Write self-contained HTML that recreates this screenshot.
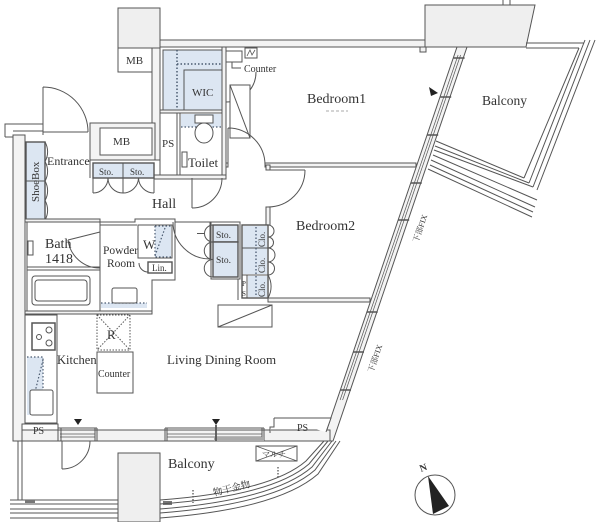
<!DOCTYPE html>
<html><head><meta charset="utf-8"><style>
html,body{margin:0;padding:0;background:#fff;}
svg{display:block}
text{font-family:"Liberation Serif","Noto Serif CJK JP",serif;fill:#333}
</style></head><body>
<svg width="600" height="522" viewBox="0 0 600 522" xmlns="http://www.w3.org/2000/svg">
<g fill="none" stroke="#555" stroke-width="1">
<!-- top-left column & MB -->
<rect x="118" y="8" width="42" height="40" fill="#efefef"/>
<rect x="118" y="48" width="35" height="24" fill="#fff"/>
<!-- top wall -->
<rect x="160" y="40" width="266" height="7" fill="#f3f3f3"/>
<!-- right column -->
<polygon points="425,5 535,5 526,47 425,47" fill="#efefef"/>
<path d="M503,0V5M510,0V5"/>
<rect x="420" y="47" width="6" height="5" fill="#f3f3f3"/>
<!-- top balcony rails -->
<path d="M526,43H584M526,48H579"/>
<path d="M579,48L524,178M585,40L529,183M590,40L533,187M595,40L537,190"/>
<path d="M436,141L524,178M435,146L529,183M434,150L533,187M433,155L537,200M431,160L535,207M430,165L533,212M428,169L532,217"/>
<!-- slanted wall -->
<polygon points="457,47 467,47 333,441 323,441" fill="#f3f3f3"/>
<path d="M458.1,55L340.1,400M460.6,55L342.6,400" stroke-width="0.7"/>
<path d="M453.6,58h11M440.2,97h11M427.2,135h11M410.8,183h11M398.2,220h11M366.7,312h11M353,352h11M340,390h11" stroke-width="1.6"/>
<polygon points="429,87 438,93 431,96" fill="#222" stroke="none"/>
<!-- left vertical wall & stub -->
<path d="M5,137V124H43V135M13,131H43M5,137H13"/>
<rect x="13" y="135" width="12" height="306" fill="#f3f3f3"/>
<!-- wall left of PS -->
<rect x="152" y="48" width="8" height="112" fill="#f3f3f3"/>
<!-- wall right of WIC/toilet -->
<rect x="222" y="47" width="4" height="131" fill="#f3f3f3"/>
<!-- WIC -->
<rect x="163" y="50" width="59" height="60" fill="#dce6f2"/>
<rect x="184" y="70" width="38" height="40" fill="#dce6f2"/>
<path d="M177,50V110M177,64H222" stroke="#4a5a70" stroke-width="1.5" stroke-dasharray="1.5 2"/>
<rect x="160" y="110" width="62" height="3" fill="#f3f3f3"/>
<!-- PS -->
<rect x="160" y="113" width="17" height="63" fill="#fff"/>
<!-- Toilet -->
<rect x="180" y="113" width="42" height="64" fill="#fff"/>
<rect x="181" y="114" width="40" height="13" fill="#dce6f2" stroke="none"/>
<path d="M181,127H221" stroke="#4a5a70" stroke-width="1.3" stroke-dasharray="1.5 2"/>
<rect x="195" y="115" width="18" height="8" fill="#fff"/>
<ellipse cx="204" cy="133" rx="9" ry="10" fill="#fff"/>
<rect x="182" y="152" width="5" height="15" fill="#fff"/>
<rect x="154" y="175" width="72" height="4" fill="#f3f3f3"/>
<!-- Counter -->
<rect x="226" y="51" width="16" height="11" fill="#fff"/>
<rect x="245" y="48" width="12" height="10" fill="#fff"/>
<path d="M247,56L250,50L252,55L255,50" stroke-width="0.8"/>
<path d="M232,62V68H241"/>
<path d="M226,72V102M226,102A30,30 0 0 0 256,72"/>
<rect x="230" y="85" width="20" height="53" fill="#fff"/>
<path d="M230,85L250,138"/>
<!-- Bedroom1 door -->
<path d="M228,165V128M228,128A37,37 0 0 1 265,165"/>
<!-- Bedroom1/2 wall -->
<rect x="226" y="163" width="2" height="4" fill="#f3f3f3"/>
<rect x="265" y="163" width="151" height="4" fill="#f3f3f3"/>
<!-- Toilet door -->
<path d="M192,178V208M192,208A30,30 0 0 0 222,178"/>
<!-- MB lower -->
<rect x="90" y="123" width="65" height="37" fill="#f3f3f3"/>
<rect x="100" y="128" width="52" height="27" fill="#fff"/>
<!-- Sto row -->
<rect x="93" y="163" width="61" height="15" fill="#dce6f2" stroke-width="1.4"/>
<path d="M123,163V178"/>
<path d="M90,160V178"/>
<path d="M93,178V193M93,193A15,15 0 0 0 108,178M123,178V193M123,193A15,15 0 0 1 108,178M123,193A15.5,15.5 0 0 0 138.5,178M154,178V193M154,193A15.5,15.5 0 0 1 138.5,178"/>
<!-- Entrance door -->
<path d="M43,132V87M43,87A45,45 0 0 1 88,132M43,132H88"/>
<!-- ShoeBox -->
<rect x="26" y="142" width="19" height="78" fill="#dce6f2" stroke-width="1.4"/>
<path d="M26,181H45"/>
<path d="M45,142A19.5,19.5 0 0 1 45,161.5M45,161.5A19.5,19.5 0 0 1 45,181M45,181A19.5,19.5 0 0 1 45,200.5M45,200.5A19.5,19.5 0 0 1 45,220"/>
<!-- Hall right wall & bedroom2 door -->
<rect x="266" y="165" width="4" height="5" fill="#f3f3f3"/>
<rect x="266" y="207" width="4" height="18" fill="#f3f3f3"/>
<path d="M268,170H305M305,170A37,37 0 0 1 268,207"/>
<!-- Hall bottom wall -->
<rect x="25" y="219" width="75" height="3" fill="#f3f3f3"/>
<path d="M100,222H135V219H175V280H152V314M100,225H137"/>
<path d="M175,222H211"/>
<path d="M210,222V259M173,222A37,37 0 0 0 210,259"/>
<!-- Bath -->
<rect x="27" y="222" width="73" height="90" fill="#fff"/>
<path d="M27,267H100M27,270H100"/>
<rect x="28" y="241" width="5" height="14" fill="#fff"/>
<path d="M68,240L100,232M68,240A32,32 0 0 0 100,268"/>
<rect x="32" y="276" width="58" height="29" rx="3" fill="#fff"/>
<rect x="35" y="280" width="52" height="21" rx="3"/>
<!-- Powder -->
<path d="M100,222V312"/>
<rect x="138" y="225" width="34" height="33" fill="#fff"/>
<rect x="155" y="226" width="16" height="31" fill="#dce6f2" stroke="none"/>
<path d="M155,226V257H171M155,226H171M165,228L155,256" stroke="#4a5a70" stroke-width="1.2" stroke-dasharray="1.5 2"/>
<rect x="148" y="262" width="24" height="11" fill="#fff" stroke-width="1.4"/>
<path d="M139,263A9,9 0 0 0 148,272"/>
<rect x="101" y="303" width="46" height="5" fill="#dce6f2" stroke="none"/>
<path d="M101,303H147" stroke="#4a5a70" stroke-width="1.2" stroke-dasharray="1.5 2"/>
<rect x="112" y="288" width="25" height="15" rx="2" fill="#fff"/>
<rect x="25" y="311" width="127" height="3" fill="#f3f3f3"/>
<!-- Sto bedroom2 side -->
<rect x="211" y="222" width="29" height="57" fill="#fff"/>
<rect x="213" y="225" width="25" height="17" fill="#dce6f2" stroke-width="1.4"/>
<rect x="213" y="242" width="25" height="35" fill="#dce6f2" stroke-width="1.4"/>
<path d="M213,225A8.5,8.5 0 0 0 213,242M197,233.5H205M213,242A8.75,8.75 0 0 0 213,259.5M213,259.5A8.75,8.75 0 0 0 213,277"/>
<path d="M238,279V300"/>
<!-- Clo -->
<rect x="242" y="225" width="26" height="73" fill="#fff" stroke-width="1.4"/>
<rect x="243" y="226" width="24" height="48" fill="#dce6f2" stroke="none"/>
<rect x="248" y="276" width="19" height="21" fill="#dce6f2" stroke="none"/>
<path d="M242,248H268M242,275H268M247,275V298"/>
<path d="M256,227V296" stroke="#4a5a70" stroke-width="1.3" stroke-dasharray="1.5 2"/>
<path d="M268,225A6,6 0 0 1 268,237M268,237A5.5,5.5 0 0 1 268,248M268,248A7,7 0 0 1 268,262M268,262A6.5,6.5 0 0 1 268,275M268,275A23,23 0 0 1 268,298"/>
<!-- Bedroom2/LDR wall -->
<rect x="268" y="298" width="102" height="4" fill="#f3f3f3"/>
<polygon points="218,305 272,305 272,327 218,327" fill="#fff"/>
<path d="M218,327L272,305"/>
<!-- Kitchen -->
<rect x="25" y="315" width="32" height="108" fill="#fff"/>
<rect x="32" y="323" width="23" height="27" fill="#fff" stroke-width="1.5"/>
<circle cx="49" cy="330" r="3"/><circle cx="39" cy="337" r="2.5"/><circle cx="49" cy="343" r="3"/>
<rect x="27" y="357" width="16" height="58" fill="#dce6f2" stroke="none"/>
<path d="M27,357H43V412M43,360L30,412" stroke="#4a5a70" stroke-width="1.2" stroke-dasharray="1.5 2"/>
<rect x="30" y="390" width="23" height="25" rx="2" fill="#fff"/>
<!-- Fridge & counter -->
<rect x="97" y="315" width="33" height="35" stroke-dasharray="1.5 1.5"/>
<path d="M97,315L130,350M130,315L97,350" stroke-dasharray="1.5 1.5"/>
<rect x="97" y="352" width="36" height="41" fill="#fff"/>
<!-- PS bottom left -->
<rect x="22" y="424" width="36" height="9" fill="#fff"/>
<!-- bottom wall -->
<rect x="22" y="430" width="308" height="11" fill="#f3f3f3"/>
<path d="M58,428H97M165,428H264M58,428V441M61,428V441M95,428V441M97,428V441M165,428V441M167,428V441M262,428V441M264,428V441"/>
<path d="M60,434H95M167,434H262M60,437H95M167,437H262" stroke-width="0.7"/>
<rect x="214" y="437" width="50" height="4" fill="#aaa" stroke="none"/>
<polygon points="74,419 82,419 78,425" fill="#222" stroke="none"/>
<polygon points="212,419 220,419 216,425" fill="#222" stroke="none"/>
<path d="M216,425V441" stroke-width="1.8"/>
<!-- PS bottom right -->
<path d="M274,418H331L326,432M274,418V427H270V433" fill="#fff"/>
<!-- bottom door -->
<path d="M62,441V469M62,469A28,28 0 0 0 90,441"/>
<!-- bottom balcony -->
<path d="M18,441V500M22,441V500"/>
<path d="M10,500H118M10,504H118M10,509H118M10,513H118M10,518H118"/>
<rect x="25" y="500" width="10" height="3" fill="#777" stroke="none"/>
<rect x="163" y="501" width="9" height="4" fill="#777" stroke="none"/>
<rect x="118" y="453" width="42" height="69" fill="#efefef"/>
<path d="M160,500Q270,492 306,461L324,441M160,504Q272,496 309,464L328,441M160,509Q274,500 312,467L332,441M160,513Q276,504 315,470L336,441M160,518Q278,509 318,474L340,441"/>
<path d="M193,490V503M278,467V478" stroke-dasharray="1.5 1.5" stroke-width="1.3"/>
<rect x="256" y="446" width="41" height="15" fill="#fff"/>
<path d="M256,446L297,461M256,461L297,446" stroke-width="0.8"/>
<!-- small dash under bedroom1 -->
<path d="M326,111H348" stroke="#aaa" stroke-dasharray="3 2"/>
<!-- north arrow -->
<circle cx="435" cy="495" r="20"/>
<polygon points="428,476 433,514 449,506" fill="#222" stroke="none"/>
</g>
<g font-size="11">
<text x="126" y="64">MB</text>
<text x="113" y="145">MB</text>
<text x="192" y="96">WIC</text>
<text x="162" y="147">PS</text>
<text x="244" y="72" font-size="10">Counter</text>
<text x="188" y="167" font-size="13">Toilet</text>
<text x="47" y="165" font-size="12">Entrance</text>
<text x="99" y="175" font-size="9">Sto.</text>
<text x="130" y="175" font-size="9">Sto.</text>
<text x="0" y="0" font-size="11" transform="translate(39,202) rotate(-90)">ShoeBox</text>
<text x="152" y="208" font-size="14">Hall</text>
<text x="307" y="103" font-size="14">Bedroom1</text>
<text x="482" y="105" font-size="13.5">Balcony</text>
<text x="296" y="230" font-size="14">Bedroom2</text>
<text x="45" y="248" font-size="14">Bath</text>
<text x="45" y="263" font-size="14">1418</text>
<text x="103" y="254" font-size="11.5">Powder</text>
<text x="107" y="267" font-size="11.5">Room</text>
<text x="143" y="249" font-size="13">W</text>
<text x="152" y="271" font-size="9">Lin.</text>
<text x="216" y="238" font-size="9.5">Sto.</text>
<text x="216" y="263" font-size="9.5">Sto.</text>
<text x="0" y="0" font-size="9" transform="translate(265,247) rotate(-90)">Clo.</text>
<text x="0" y="0" font-size="9" transform="translate(265,273) rotate(-90)">Clo.</text>
<text x="0" y="0" font-size="9" transform="translate(265,297) rotate(-90)">Clo.</text>
<text x="242" y="286" font-size="7">P</text>
<text x="242" y="296" font-size="7">S</text>
<text x="107" y="339" font-size="13">R</text>
<text x="57" y="364" font-size="12.5">Kitchen</text>
<text x="98" y="377" font-size="10">Counter</text>
<text x="167" y="364" font-size="13">Living Dining Room</text>
<text x="33" y="434" font-size="10">PS</text>
<text x="297" y="431" font-size="10">PS</text>
<text x="168" y="468" font-size="14">Balcony</text>
<text x="262" y="457" font-size="8">マルチ</text>
<text x="0" y="0" font-size="9.5" transform="translate(214,496) rotate(-14)">物干金物</text>
<text x="0" y="0" font-size="8" transform="translate(418,243) rotate(-71)">下部FIX</text>
<text x="0" y="0" font-size="8" transform="translate(373,373) rotate(-71)">下部FIX</text>
<text x="0" y="0" font-size="10" font-weight="bold" transform="translate(421,472) rotate(-20)">N</text>
</g>
</svg>
</body></html>
